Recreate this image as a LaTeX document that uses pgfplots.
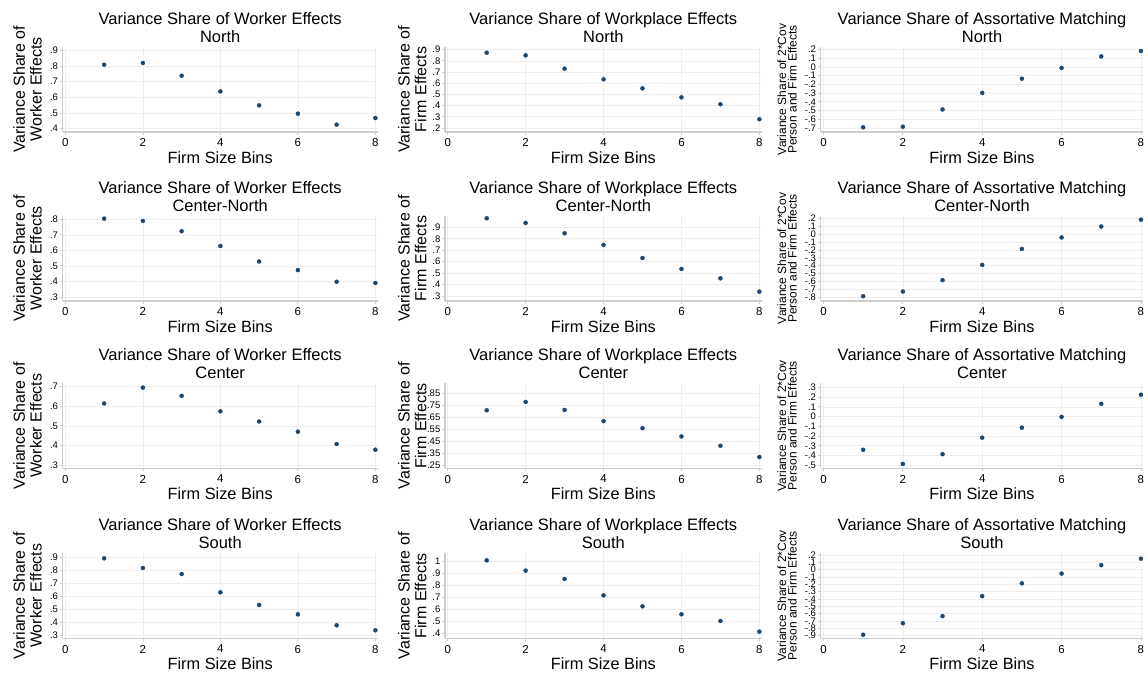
\documentclass[border=0pt]{standalone}
\usepackage{fontspec}
\setmainfont{Liberation Sans}
\usepackage{pgfplots}
\pgfplotsset{compat=1.18}

\definecolor{stnavy}{RGB}{26,71,111}
\definecolor{stgrid}{RGB}{238,238,238}
\definecolor{staxis}{RGB}{205,205,205}

\pgfplotsset{
  navydots/.style={only marks, mark=*, mark size=2pt, color=stnavy,
                   mark options={solid, draw=stnavy, fill=stnavy}},
  panel/.style={
    scale only axis, height=85pt,
    xmin=-0.07, xmax=8.06,
    xtick={0,2,4,6,8}, xticklabels={0,2,4,6,8},
    axis x line*=bottom, axis y line*=left,
    axis line style={staxis, line width=1.4pt},
    xmajorgrids, ymajorgrids,
    grid style={stgrid, line width=0.6pt},
    tick align=outside, major tick length=3pt,
    tick style={staxis, line width=0.8pt},
    xticklabel style={font=\fontsize{11.5}{12}\selectfont, inner sep=0pt, yshift=-3.5pt},
    yticklabel style={font=\fontsize{9.5}{10}\selectfont, inner sep=0pt, xshift=-1.5pt},
    xlabel={Firm Size Bins},
    xlabel style={font=\fontsize{16.3}{17}\selectfont, at={(axis description cs:0.5,0)}, anchor=base, yshift=-31pt},
    title style={font=\fontsize{16.5}{18.3}\selectfont, align=center, inner sep=0pt,
                 at={(axis description cs:0.5,1)}, anchor=south, yshift=-1.8pt},
  },
  col1/.style={panel, width=315pt,
    title={Variance Share of Worker Effects\\#1},
    ylabel={Variance Share of\\Worker Effects},
    ylabel style={font=\fontsize{16}{16.7}\selectfont, align=center, inner sep=0pt,
                  at={(axis description cs:-0.066,0.5)}, anchor=south}},
  col2/.style={panel, width=316.7pt,
    title={Variance Share of Workplace Effects\\#1},
    ylabel={Variance Share of\\Firm Effects},
    ylabel style={font=\fontsize{16}{16.7}\selectfont, align=center, inner sep=0pt,
                  at={(axis description cs:-0.058,0.5)}, anchor=south}},
  col3/.style={panel, width=322.6pt,
    title={Variance Share of Assortative Matching\\#1},
    ylabel={Variance Share of 2*Cov\\Person and Firm Effects},
    ylabel style={font=\fontsize{12}{10.5}\selectfont, align=center, inner sep=0pt,
                  at={(axis description cs:-0.074,0.5)}, anchor=south}},
}

\begin{document}
\begin{tikzpicture}
\path[use as bounding box] (0pt,0pt) rectangle (1148pt,-675pt);

% ---------------- North ----------------
\begin{axis}[col1=North, at={(62.7pt,-132pt)}, anchor=south west,
  ymin=0.379, ymax=0.921, ytick={0.4,0.5,0.6,0.7,0.8,0.9},
  yticklabels={.4,.5,.6,.7,.8,.9}]
\addplot[navydots] coordinates {(1,0.808) (2,0.819) (3,0.738) (4,0.638) (5,0.549) (6,0.496) (7,0.426) (8,0.468)};
\end{axis}

\begin{axis}[col2=North, at={(445pt,-132pt)}, anchor=south west,
  ymin=0.164, ymax=0.924, ytick={0.2,0.3,0.4,0.5,0.6,0.7,0.8,0.9},
  yticklabels={.2,.3,.4,.5,.6,.7,.8,.9}]
\addplot[navydots] coordinates {(1,0.873) (2,0.849) (3,0.730) (4,0.635) (5,0.554) (6,0.474) (7,0.412) (8,0.278)};
\end{axis}

\begin{axis}[col3=North, at={(820.7pt,-132pt)}, anchor=south west,
  ymin=-0.746, ymax=0.227, ytick={-0.7,-0.6,-0.5,-0.4,-0.3,-0.2,-0.1,0,0.1,0.2},
  yticklabels={-.7,-.6,-.5,-.4,-.3,-.2,-.1,0,.1,.2}]
\addplot[navydots] coordinates {(1,-0.692) (2,-0.685) (3,-0.488) (4,-0.298) (5,-0.136) (6,-0.012) (7,0.119) (8,0.181)};
\end{axis}

% ---------------- Center-North ----------------
\begin{axis}[col1=Center-North, at={(62.7pt,-301pt)}, anchor=south west,
  ymin=0.274, ymax=0.821, ytick={0.3,0.4,0.5,0.6,0.7,0.8},
  yticklabels={.3,.4,.5,.6,.7,.8}]
\addplot[navydots] coordinates {(1,0.804) (2,0.789) (3,0.723) (4,0.628) (5,0.528) (6,0.473) (7,0.398) (8,0.390)};
\end{axis}

\begin{axis}[col2=Center-North, at={(445pt,-301pt)}, anchor=south west,
  ymin=0.256, ymax=0.999, ytick={0.3,0.4,0.5,0.6,0.7,0.8,0.9},
  yticklabels={.3,.4,.5,.6,.7,.8,.9}]
\addplot[navydots] coordinates {(1,0.979) (2,0.938) (3,0.848) (4,0.746) (5,0.632) (6,0.536) (7,0.454) (8,0.338)};
\end{axis}

\begin{axis}[col3=Center-North, at={(820.7pt,-301pt)}, anchor=south west,
  ymin=-0.851, ymax=0.234, ytick={-0.8,-0.7,-0.6,-0.5,-0.4,-0.3,-0.2,-0.1,0,0.1,0.2},
  yticklabels={-.8,-.7,-.6,-.5,-.4,-.3,-.2,-.1,0,.1,.2}]
\addplot[navydots] coordinates {(1,-0.790) (2,-0.730) (3,-0.585) (4,-0.390) (5,-0.186) (6,-0.040) (7,0.100) (8,0.187)};
\end{axis}

% ---------------- Center ----------------
\begin{axis}[col1=Center, at={(62.7pt,-468.3pt)}, anchor=south west,
  ymin=0.283, ymax=0.717, ytick={0.3,0.4,0.5,0.6,0.7},
  yticklabels={.3,.4,.5,.6,.7}]
\addplot[navydots] coordinates {(1,0.614) (2,0.695) (3,0.653) (4,0.574) (5,0.522) (6,0.470) (7,0.407) (8,0.378)};
\end{axis}

\begin{axis}[col2=Center, at={(445pt,-468.3pt)}, anchor=south west,
  ymin=0.222, ymax=0.934, ytick={0.25,0.35,0.45,0.55,0.65,0.75,0.85},
  yticklabels={.25,.35,.45,.55,.65,.75,.85}]
\addplot[navydots] coordinates {(1,0.708) (2,0.778) (3,0.711) (4,0.617) (5,0.558) (6,0.489) (7,0.411) (8,0.316)};
\end{axis}

\begin{axis}[col3=Center, at={(820.7pt,-468.3pt)}, anchor=south west,
  ymin=-0.531, ymax=0.341, ytick={-0.5,-0.4,-0.3,-0.2,-0.1,0,0.1,0.2,0.3},
  yticklabels={-.5,-.4,-.3,-.2,-.1,0,.1,.2,.3}]
\addplot[navydots] coordinates {(1,-0.341) (2,-0.486) (3,-0.386) (4,-0.217) (5,-0.114) (6,-0.003) (7,0.131) (8,0.224)};
\end{axis}

% ---------------- South ----------------
\begin{axis}[col1=South, at={(62.7pt,-638.3pt)}, anchor=south west,
  ymin=0.274, ymax=0.934, ytick={0.3,0.4,0.5,0.6,0.7,0.8,0.9},
  yticklabels={.3,.4,.5,.6,.7,.8,.9}]
\addplot[navydots] coordinates {(1,0.895) (2,0.820) (3,0.773) (4,0.631) (5,0.533) (6,0.460) (7,0.375) (8,0.336)};
\end{axis}

\begin{axis}[col2=South, at={(445pt,-638.3pt)}, anchor=south west,
  ymin=0.358, ymax=1.07, ytick={0.4,0.5,0.6,0.7,0.8,0.9,1},
  yticklabels={.4,.5,.6,.7,.8,.9,1}]
\addplot[navydots] coordinates {(1,1.011) (2,0.925) (3,0.855) (4,0.718) (5,0.626) (6,0.559) (7,0.503) (8,0.414)};
\end{axis}

\begin{axis}[col3=South, at={(820.7pt,-638.3pt)}, anchor=south west,
  ymin=-0.937, ymax=0.223, ytick={-0.9,-0.8,-0.7,-0.6,-0.5,-0.4,-0.3,-0.2,-0.1,0,0.1,0.2},
  yticklabels={-.9,-.8,-.7,-.6,-.5,-.4,-.3,-.2,-.1,0,.1,.2}]
\addplot[navydots] coordinates {(1,-0.888) (2,-0.731) (3,-0.634) (4,-0.362) (5,-0.187) (6,-0.053) (7,0.062) (8,0.149)};
\end{axis}
\end{tikzpicture}
\end{document}
